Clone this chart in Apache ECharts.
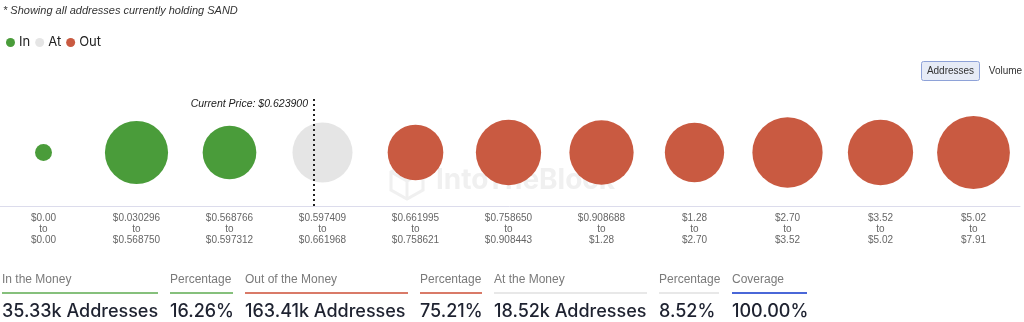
<!DOCTYPE html>
<html>
<head>
<meta charset="utf-8">
<script src="https://cdn.jsdelivr.net/npm/echarts/dist/echarts.min.js"></script>
<style>
  html, body { margin: 0; padding: 0; background: #ffffff; }
  #chart { width: 1024px; height: 322px; }
</style>
</head>
<body>
<div id="chart"></div>
<script>
// Price clusters (lower and upper bound of each range)
const rangeFrom = ['$0.00', '$0.030296', '$0.568766', '$0.597409', '$0.661995', '$0.758650', '$0.908688', '$1.28', '$2.70', '$3.52', '$5.02'];
const rangeTo   = ['$0.00', '$0.568750', '$0.597312', '$0.661968', '$0.758621', '$0.908443', '$1.28', '$2.70', '$3.52', '$5.02', '$7.91'];

// Addresses holding in each cluster (thousands)
const addressesK = [0.50, 21.40, 13.43, 18.52, 14.90, 23.50, 22.50, 17.90, 29.00, 23.50, 32.11];

// Money status of each cluster relative to the current price
const status = ['In', 'In', 'In', 'At', 'Out', 'Out', 'Out', 'Out', 'Out', 'Out', 'Out'];

const currentPrice = 0.6239;

// Summary row
const statLabels = ['In the Money', 'Percentage', 'Out of the Money', 'Percentage', 'At the Money', 'Percentage', 'Coverage'];
const statValues = ['35.33k Addresses', '16.26%', '163.41k Addresses', '75.21%', '18.52k Addresses', '8.52%', '100.00%'];

const COLORS = { In: '#4a9c3a', At: '#e0e0e0', Out: '#c95a41' };
const FONT = 'Inter, "Noto Sans", "DejaVu Sans", sans-serif';
const FONT_S = '"Liberation Sans", Arial, sans-serif';

const categories = rangeFrom.map((f, i) => f + '\nto\n' + rangeTo[i]);
const num = s => parseFloat(s.replace('$', ''));

// Position of the current price on the cluster axis
function pricePosition(p) {
  for (let i = 0; i < rangeFrom.length; i++) {
    const lo = num(rangeFrom[i]), hi = num(rangeTo[i]);
    if (p >= lo && p <= hi && hi > lo) return i - 0.5 + (p - lo) / (hi - lo);
  }
  return 0;
}

// Bubble diameter grows with a power scale of the address count
const maxK = Math.max(...addressesK);
const bubbleSize = v => 72.8 * Math.pow(v / maxK, 0.35);

function seriesFor(name) {
  const data = [];
  addressesK.forEach((v, i) => { if (status[i] === name) data.push([i, 0, v]); });
  return {
    name: name,
    type: 'scatter',
    xAxisIndex: 0,
    data: data,
    symbolSize: d => bubbleSize(d[2]),
    itemStyle: { color: COLORS[name], opacity: name === 'At' ? 0.85 : 1 },
    emphasis: { disabled: true },
    z: 3
  };
}

// Summary columns
const statX = [2, 170, 245, 420, 494, 659, 732];
const statW = [156, 63, 163, 62, 153, 60, 75];
const statLine = ['#86c07c', '#86c07c', '#d97a68', '#d97a68', '#e8e8e8', '#e8e8e8', '#4a67d8'];

const statGraphics = [];
statLabels.forEach((lab, i) => {
  statGraphics.push({
    type: 'text', x: statX[i], y: 280,
    style: { text: lab, fill: '#7a7a7a', font: '12px ' + FONT_S, textVerticalAlign: 'middle' }
  });
  statGraphics.push({
    type: 'rect', shape: { x: statX[i], y: 292, width: statW[i], height: 2 },
    style: { fill: statLine[i] }
  });
  statGraphics.push({
    type: 'text', x: statX[i], y: 312,
    style: { text: statValues[i], fill: '#1e2230', font: '500 18px ' + FONT, textVerticalAlign: 'middle' }
  });
});

const chart = echarts.init(document.getElementById('chart'), null, { renderer: 'canvas' });

chart.setOption({
  animation: false,
  backgroundColor: '#ffffff',
  title: {
    text: '* Showing all addresses currently holding SAND',
    left: 3, top: 5, padding: 0,
    textStyle: { fontSize: 11, fontStyle: 'italic', fontWeight: 'normal', color: '#333', fontFamily: FONT_S }
  },
  legend: {
    data: ['In', 'At', 'Out'],
    left: 1, top: 31,
    icon: 'circle', itemWidth: 9, itemHeight: 9, itemGap: 5,
    textStyle: { fontSize: 13, color: '#222', fontFamily: FONT, padding: [0, 0, 0, -1] },
    selectedMode: false
  },
  grid: { left: -3, right: 4, top: 99, bottom: 116, containLabel: false, outerBoundsMode: 'none' },
  xAxis: [
    {
      type: 'category',
      data: categories,
      boundaryGap: true,
      axisLine: { show: true, onZero: false, lineStyle: { color: '#dcdcec', width: 1 } },
      axisTick: { show: false },
      splitLine: { show: false },
      axisLabel: { interval: 0, fontSize: 10, color: '#666', lineHeight: 11, margin: 7, fontFamily: FONT_S }
    },
    { type: 'value', min: -0.5, max: 10.5, show: false }
  ],
  yAxis: { type: 'value', min: -1, max: 1, show: false },
  series: [
    seriesFor('In'),
    seriesFor('At'),
    seriesFor('Out'),
    {
      name: 'price',
      type: 'line',
      xAxisIndex: 1,
      data: [],
      z: 1,
      markLine: {
        silent: true,
        symbol: 'none',
        label: { show: false },
        lineStyle: { color: '#222', width: 2, type: [2, 3] },
        data: [{ xAxis: pricePosition(currentPrice) }]
      }
    }
  ],
  graphic: [
    // watermark
    {
      type: 'group', z: 0, silent: true,
      children: [
        { type: 'polygon', shape: { points: [[407, 163], [423, 172], [423, 190], [407, 199], [391, 190], [391, 172]] },
          style: { fill: 'none', stroke: '#f0f0f0', lineWidth: 3 } },
        { type: 'polyline', shape: { points: [[391, 172], [407, 181], [423, 172]] },
          style: { fill: 'none', stroke: '#f0f0f0', lineWidth: 3 } },
        { type: 'line', shape: { x1: 407, y1: 181, x2: 407, y2: 199 },
          style: { stroke: '#f0f0f0', lineWidth: 3 } },
        { type: 'text', x: 436, y: 181,
          style: { text: 'IntoTheBlock', fill: '#f0f0f0', font: 'bold 28px ' + FONT, textVerticalAlign: 'middle' } }
      ]
    },
    // current price caption
    {
      type: 'text', x: 308, y: 104, z: 5,
      style: { text: 'Current Price: $' + currentPrice.toFixed(6), fill: '#222', font: 'italic 10.5px ' + FONT_S,
               textAlign: 'right', textVerticalAlign: 'middle' }
    },
    // view toggle
    { type: 'rect', shape: { x: 921.5, y: 61.5, width: 58, height: 19, r: 2 },
      style: { fill: '#e6ebf6', stroke: '#8ea2d8', lineWidth: 1 } },
    { type: 'text', x: 950.5, y: 71, style: { text: 'Addresses', fill: '#333', font: '10px ' + FONT_S, textAlign: 'center', textVerticalAlign: 'middle' } },
    { type: 'text', x: 1005.5, y: 71, style: { text: 'Volume', fill: '#333', font: '10px ' + FONT_S, textAlign: 'center', textVerticalAlign: 'middle' } }
  ].concat(statGraphics)
});
</script>
</body>
</html>
